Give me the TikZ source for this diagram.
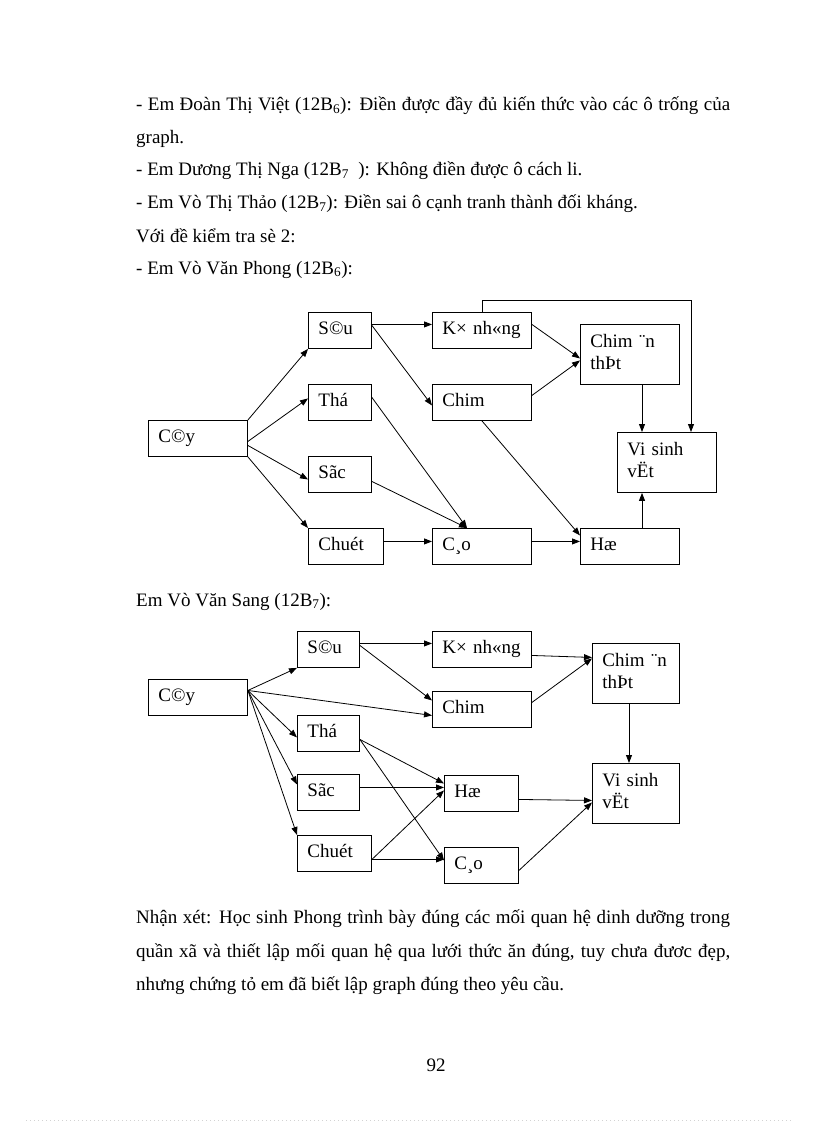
\documentclass[tikz,border=0pt]{standalone}
\usepackage{fontspec}
\setmainfont{Liberation Serif}
\usepackage{tikz}
\usetikzlibrary{arrows.meta}
\usetikzlibrary{calc}
\newcommand{\txtfont}{\fontsize{19}{23}\selectfont}
\newcommand{\boxfont}{\fontsize{19}{22}\selectfont}
\tikzset{box/.style = {draw, line width = 0.9pt, anchor = north west, inner xsep = 10pt, inner ysep = 0pt,
    align = left, minimum height = 36pt, text height = 13pt, text depth = 5pt, font = \boxfont}}
\tikzset{twoline/.style = {minimum height = 60pt, text depth = 27pt}}
\tikzset{arr/.style = {line width = 0.8pt, -{Triangle[length = 8pt, width = 6pt]}}}
\tikzset{line/.style = {anchor = base west, inner sep = 0pt, font = \txtfont}}

\begin{document}
\begin{tikzpicture}[x = 1pt, y = -1pt]
    \fill[white] (0, 0) rectangle (816, 1123);
    \useasboundingbox (0, 0) rectangle (816, 1123);

    % text above
    \node [line] (l1) at (136, 111) {\makebox[594pt][s]{- Em Đoàn Thị Việt (12B\textsubscript{6}): Điền được đầy đủ kiến thức vào các ô trống của}};
    \node [line] (l2) at (136, 144) {graph.};
    \node [line] (l3) at (136, 176) {- Em Dương Thị Nga (12B\textsubscript{7}\ \ ): Không điền được ô cách li.};
    \node [line] (l4) at (136, 209) {- Em Vò Thị Thảo (12B\textsubscript{7}): Điền sai ô cạnh tranh thành đối kháng.};
    \node [line] (l5) at (136, 242) {Với đề kiểm tra sè 2:};
    \node [line] (l6) at (136, 274) {- Em Vò Văn Phong (12B\textsubscript{6}):};

    \begin{scope}
      \node [box, text width = 79pt] (cayA) at (148, 420) {C©y};
      \node [box, text width = 43pt] (sauA) at (308, 312) {S©u};
      \node [box, text width = 43pt] (thoA) at (308, 384) {Thá};
      \node [box, text width = 43pt] (socA) at (308, 456) {Sãc};
      \node [box, text width = 55pt] (chuotA) at (308, 528) {Chuét};
      \node [box, text width = 79pt] (kynhongA) at (432, 312) {K× nh«ng};
      \node [box, text width = 79pt] (chimA) at (432, 384) {Chim};
      \node [box, text width = 79pt] (caoA) at (432, 528) {C¸o};
      \node [box, twoline, text width = 79pt] (chimanthitA) at (580, 324) {Chim ¨n\\thÞt};
      \node [box, text width = 79pt] (hoA) at (580, 528) {Hæ};
      \node [box, twoline, text width = 79pt] (vsvA) at (617, 432) {Vi sinh\\vËt};

      \draw [arr] (cayA.north east) -- (sauA.south west);
      \draw [arr] ($(cayA.east) + (0, 3)$) -- ($(thoA.west) + (0, -4)$);
      \draw [arr] ($(cayA.east) + (0, 7)$) -- ($(socA.west) + (0, 5)$);
      \draw [arr] (cayA.south east) -- (chuotA.north west);

      \draw [arr] ($(sauA.east) + (0, -6)$) -- ($(kynhongA.west) + (0, -6)$);
      \draw [arr] ($(sauA.east) + (0, -5)$) -- ($(chimA.west) + (0, 3)$);
      \draw [arr] ($(thoA.east) + (0, -5)$) -- ($(caoA.north west) + (35, 0)$);
      \draw [arr] ($(socA.east) + (0, 7)$) -- ($(caoA.north west) + (35, 0)$);
      \draw [arr] ($(chuotA.east) + (0, -5)$) -- ($(caoA.west) + (0, -5)$);

      \draw [arr] ($(kynhongA.east) + (0, -6)$) -- ($(chimanthitA.west) + (0, 4)$);
      \draw [arr] ($(chimA.east) + (0, -7)$) -- ($(chimanthitA.west) + (0, 6)$);
      \draw [arr] (kynhongA.north) -- ++(0, -12) -| ($(vsvA.north west) + (74, 0)$);
      \draw [arr] ($(chimanthitA.south west) + (62, 0)$) -- ($(vsvA.north west) + (25, 0)$);
      \draw [arr] (chimA.south) -- ($(hoA.west) + (0, -11)$);
      \draw [arr] ($(caoA.east) + (0, -5)$) -- ($(hoA.west) + (0, -5)$);
      \draw [arr] ($(hoA.north west) + (62, 0)$) -- ($(vsvA.south west) + (25, 0)$);
    \end{scope}

    \node [line] (l7) at (136, 606) {Em Vò Văn Sang (12B\textsubscript{7}):};

    \begin{scope}
      \node [box, text width = 79pt] (cayB) at (148, 679) {C©y};
      \node [box, text width = 42pt] (sauB) at (297, 631) {S©u};
      \node [box, text width = 42pt] (thoB) at (297, 715) {Thá};
      \node [box, text width = 42pt] (socB) at (297, 774) {Sãc};
      \node [box, text width = 54pt] (chuotB) at (297, 835) {Chuét};
      \node [box, text width = 79pt] (kynhongB) at (432, 631) {K× nh«ng};
      \node [box, text width = 79pt] (chimB) at (432, 691) {Chim};
      \node [box, text width = 54pt] (hoB) at (444, 775) {Hæ};
      \node [box, text width = 54pt] (caoB) at (444, 847) {C¸o};
      \node [box, twoline, text width = 67pt] (chimanthitB) at (592, 643) {Chim ¨n\\thÞt};
      \node [box, twoline, text width = 67pt] (vsvB) at (592, 763) {Vi sinh\\vËt};

      \coordinate (cayout) at ($(cayB.east) + (0, -7)$);
      \draw [arr] (cayout) -- (sauB.south west);
      \draw [arr] (cayout) -- ($(chimB.west) + (0, 6)$);
      \draw [arr] (cayout) -- ($(thoB.west) + (0, 4)$);
      \draw [arr] (cayout) -- ($(socB.west) + (0, -8)$);
      \draw [arr] (cayout) -- (chuotB.north west);

      \draw [arr] ($(sauB.east) + (0, -6)$) -- ($(kynhongB.west) + (0, -6)$);
      \draw [arr] ($(sauB.east) + (0, -4)$) -- ($(chimB.west) + (0, -9)$);
      \draw [arr] ($(thoB.east) + (0, 6)$) -- ($(hoB.west) + (0, -10)$);
      \draw [arr] ($(thoB.east) + (0, 6)$) -- ($(caoB.west) + (0, -5)$);
      \draw [arr] ($(socB.east) + (0, -5)$) -- ($(hoB.west) + (0, -6)$);
      \draw [arr] ($(chuotB.east) + (0, 6)$) -- ($(hoB.west) + (0, -3)$);
      \draw [arr] ($(chuotB.east) + (0, 6)$) -- ($(caoB.west) + (0, -6)$);

      \draw [arr] ($(kynhongB.east) + (0, 6)$) -- ($(chimanthitB.west) + (0, -16)$);
      \draw [arr] ($(chimB.east) + (0, -7)$) -- ($(chimanthitB.west) + (0, -15)$);
      \draw [arr] ($(chimanthitB.south west) + (37, 0)$) -- ($(vsvB.north west) + (37, 0)$);
      \draw [arr] ($(hoB.east) + (0, 6)$) -- ($(vsvB.west) + (0, 7)$);
      \draw [arr] ($(caoB.east) + (0, 5)$) -- ($(vsvB.west) + (0, 9)$);
    \end{scope}

    % text below
    \node [line] (l8) at (136, 923) {\makebox[594pt][s]{Nhận xét: Học sinh Phong trình bày đúng các mối quan hệ dinh dưỡng trong}};
    \node [line] (l9) at (136, 957) {\makebox[594pt][s]{quần xã và thiết lập mối quan hệ qua lưới thức ăn đúng, tuy chưa đươc đẹp,}};
    \node [line] (l10) at (136, 990) {nhưng chứng tỏ em đã biết lập graph đúng theo yêu cầu.};
    \node [anchor = base, inner sep = 0pt, font = \txtfont] (pg) at (436, 1071) {92};

    \draw [gray!35, line width = 0.6pt, dash pattern = on 1pt off 3pt] (26, 1120) -- (791, 1120);
  \end{tikzpicture}
\end{document}
